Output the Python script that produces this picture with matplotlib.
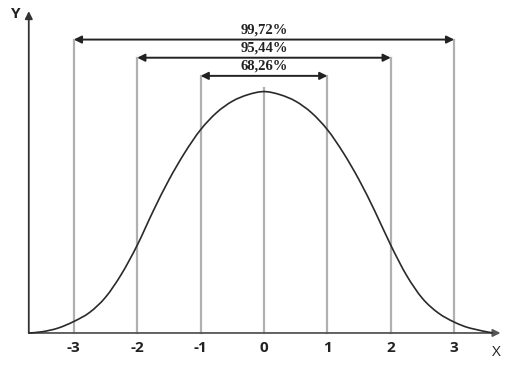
import matplotlib
matplotlib.use("Agg")
import matplotlib.pyplot as plt
from matplotlib.path import Path
from matplotlib.patches import PathPatch

# curve
curve_x = [-3.71, -3.5, -3.25, -3.0, -2.75, -2.5, -2.25, -2.0, -1.75, -1.5,
           -1.25, -1.0, -0.75, -0.5, -0.25, 0.0, 0.25, 0.5, 0.75, 1.0, 1.25,
           1.5, 1.75, 2.0, 2.25, 2.5, 2.75, 3.0, 3.25, 3.61]
curve_y = [0.000, 0.002, 0.008, 0.019, 0.034, 0.059, 0.097, 0.145, 0.201, 0.253,
           0.298, 0.336, 0.364, 0.383, 0.394, 0.399, 0.394, 0.383, 0.364, 0.336,
           0.298, 0.253, 0.201, 0.145, 0.095, 0.057, 0.033, 0.018, 0.008, 0.000]

ticks = [-3, -2, -1, 0, 1, 2, 3]
tick_labels = ["-3", "-2", "-1", "0", "1", "2", "3"]

# intervals: half width, label, arrow height
spans = [3, 2, 1]
span_labels = ["99,72%", "95,44%", "68,26%"]
span_heights = [0.485, 0.455, 0.425]
center_top = 0.405

fig = plt.figure(figsize=(5.15, 3.70), dpi=100)
ax = fig.add_axes([0, 0, 1, 1])
ax.set_xlim(-4.164, 3.959)
ax.set_ylim(-0.0612, 0.5504)
ax.axis("off")

# vertical guide lines
line_top = {0: center_top}
for s, h in zip(spans, span_heights):
    line_top[s] = h
    line_top[-s] = h
for t in ticks:
    ax.plot([t, t], [0, line_top[abs(t)]], color="#b0b0b0", lw=1.6, zorder=1)

# curve, drawn as a smooth bezier path through the read points
pts = list(zip(curve_x, curve_y))
verts = [pts[0]]
codes = [Path.MOVETO]
for i in range(len(pts) - 1):
    p0 = pts[max(i - 1, 0)]
    p1 = pts[i]
    p2 = pts[i + 1]
    p3 = pts[min(i + 2, len(pts) - 1)]
    c1 = (p1[0] + (p2[0] - p0[0]) / 6, p1[1] + (p2[1] - p0[1]) / 6)
    c2 = (p2[0] - (p3[0] - p1[0]) / 6, p2[1] - (p3[1] - p1[1]) / 6)
    verts += [c1, c2, p2]
    codes += [Path.CURVE4] * 3
ax.add_patch(PathPatch(Path(verts, codes), facecolor="none",
                       edgecolor="#2a2a2a", lw=1.2, zorder=3))

# axes with arrows
ax.annotate("", xy=(3.73, 0), xytext=(-3.71, 0),
            arrowprops=dict(arrowstyle="-|>", color="#555555", lw=1.3,
                            mutation_scale=11, shrinkA=0, shrinkB=0), zorder=2)
ax.annotate("", xy=(-3.71, 0.532), xytext=(-3.71, 0),
            arrowprops=dict(arrowstyle="-|>", color="#333333", lw=1.3,
                            mutation_scale=11, shrinkA=0, shrinkB=0), zorder=2)

# interval arrows and labels
for s, lab, h in zip(spans, span_labels, span_heights):
    ax.annotate("", xy=(s, h), xytext=(-s, h),
                arrowprops=dict(arrowstyle="<|-|>", color="#222222", lw=1.4,
                                mutation_scale=11, shrinkA=0, shrinkB=0), zorder=4)
    ax.text(0, h + 0.0165, lab, ha="center", va="center", fontsize=10.5,
            fontweight="bold", family="Liberation Serif", color="#222222")

for t, lab in zip(ticks, tick_labels):
    ax.text(t, -0.025, lab, ha="center", va="center", fontsize=11,
            fontweight="bold", family="Open Sans", color="#222222")

ax.text(3.67, -0.033, "X", ha="center", va="center", fontsize=11,
        family="Open Sans", color="#222222")
ax.text(-3.91, 0.528, "Y", ha="center", va="center", fontsize=11,
        fontweight="bold", family="Open Sans", color="#222222")

fig.savefig("out.png", dpi=100)
